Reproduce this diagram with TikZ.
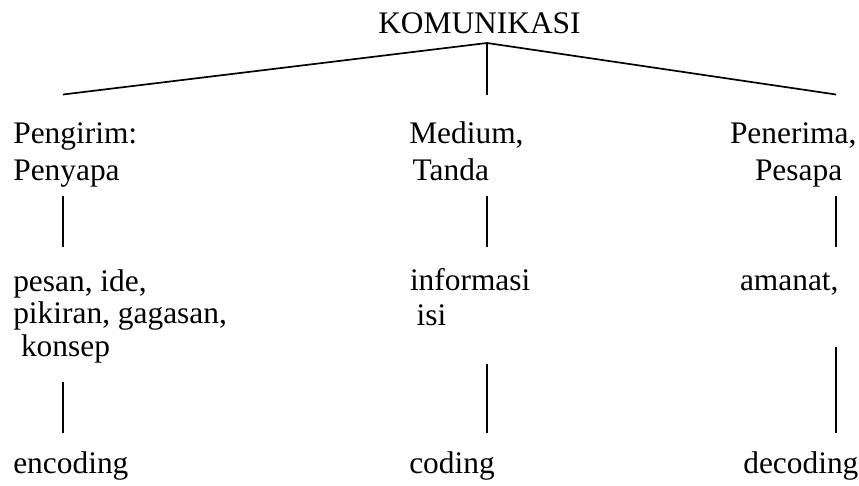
\documentclass[tikz,border=0pt]{standalone}
\usepackage{fontspec}
\newfontfamily\diagfont{Liberation Serif}
\begin{document}
\begin{tikzpicture}[x=1pt,y=-1pt,
  lbl/.style={anchor=base west, inner sep=0pt, outer sep=0pt,
              font=\diagfont\fontsize{31.4}{36}\selectfont},
  link/.style={line width=1.7pt, line cap=butt}]
\useasboundingbox (0,0) rectangle (859,485);

% title
\node[lbl] (kom) at (378.3,33.3) {KOMUNIKASI};

% first row
\node[lbl] (sendA) at (13.3,143.3) {Pengirim:};
\node[lbl] (sendB) at (13.3,180) {Penyapa};
\node[lbl] (medA)  at (409.3,143.3) {Medium,};
\node[lbl] (medB)  at (412.7,180) {Tanda};
\node[lbl] (recA)  at (730,143.3) {Penerima,};
\node[lbl] (recB)  at (755,180) {Pesapa};

% second row
\node[lbl] (msgA) at (13.3,291.7) {pesan, ide,};
\node[lbl] (msgB) at (13.3,323.5) {pikiran, gagasan,};
\node[lbl] (msgC) at (21,356) {konsep};
\node[lbl] (infA) at (410,290) {informasi};
\node[lbl] (infB) at (416.7,325) {isi};
\node[lbl] (amn)  at (740,290) {amanat,};

% third row
\node[lbl] (enc) at (13.3,473) {encoding};
\node[lbl] (cod) at (409.3,473) {coding};
\node[lbl] (dec) at (743.3,473) {decoding};

% connector end points
\coordinate (apex) at (487,43);
\coordinate (brL) at (63,94.5);
\coordinate (brM) at (487,95);
\coordinate (brR) at (836,94.5);

\coordinate (aL1) at (63,196);   \coordinate (bL1) at (63,247);
\coordinate (aM1) at (487,196);  \coordinate (bM1) at (487,247);
\coordinate (aR1) at (836,196);  \coordinate (bR1) at (836,247);

\coordinate (aL2) at (63,381.7);  \coordinate (bL2) at (63,432.7);
\coordinate (aM2) at (487,364);   \coordinate (bM2) at (487,432.7);
\coordinate (aR2) at (836,346.7); \coordinate (bR2) at (836,432.7);

% branching below the title
\draw[link] (brL) -- (apex) -- (brR);
\draw[link] (apex) -- (brM);

% vertical links
\draw[link] (aL1) -- (bL1);
\draw[link] (aM1) -- (bM1);
\draw[link] (aR1) -- (bR1);
\draw[link] (aL2) -- (bL2);
\draw[link] (aM2) -- (bM2);
\draw[link] (aR2) -- (bR2);
\end{tikzpicture}
\end{document}
